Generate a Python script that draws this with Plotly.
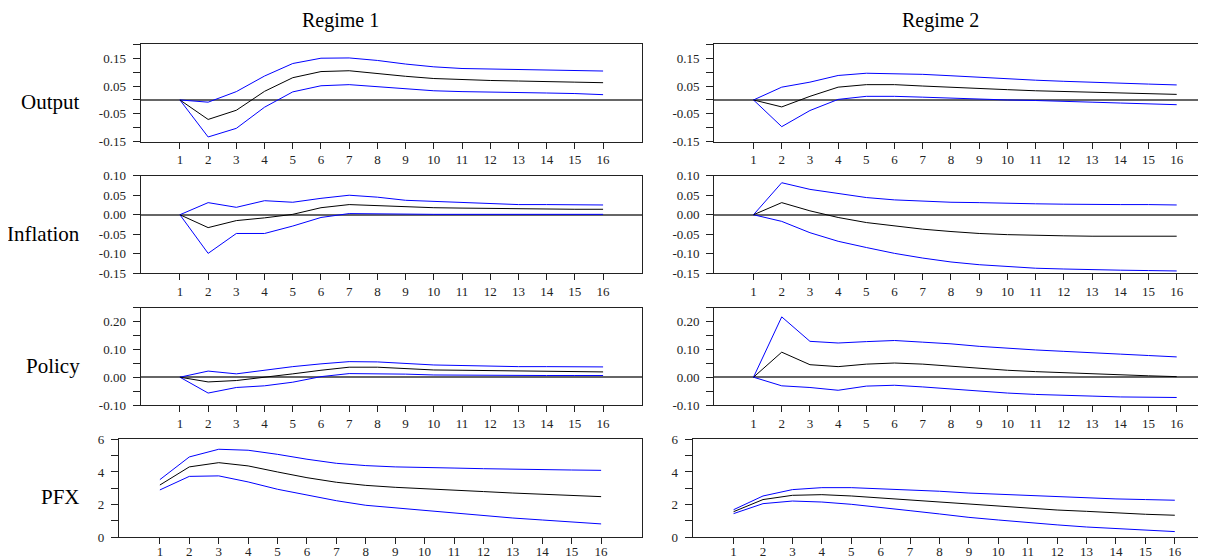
import plotly.graph_objects as go

W, H = 1206, 557
OFF = 8  # page body margin of the html page
horizon = list(range(1, 17))
titles = ["Regime 1", "Regime 2"]
row_names = ["Output", "Inflation", "Policy", "PFX"]

# Output
out_r1_mid = [0, -0.070, -0.037, 0.031, 0.080, 0.102, 0.105, 0.094, 0.085, 0.077, 0.073, 0.070, 0.068, 0.067, 0.064, 0.062]
out_r1_up = [0, -0.008, 0.030, 0.086, 0.131, 0.150, 0.151, 0.142, 0.129, 0.119, 0.113, 0.111, 0.110, 0.107, 0.106, 0.104]
out_r1_lo = [0, -0.133, -0.102, -0.026, 0.029, 0.051, 0.055, 0.048, 0.039, 0.033, 0.030, 0.029, 0.027, 0.025, 0.023, 0.019]
out_r2_mid = [0, -0.025, 0.013, 0.046, 0.055, 0.055, 0.050, 0.045, 0.040, 0.037, 0.033, 0.030, 0.027, 0.025, 0.023, 0.020]
out_r2_up = [0, 0.046, 0.064, 0.088, 0.096, 0.095, 0.092, 0.087, 0.081, 0.076, 0.071, 0.067, 0.063, 0.060, 0.057, 0.054]
out_r2_lo = [0, -0.096, -0.038, 0.002, 0.013, 0.013, 0.010, 0.006, 0.002, 0.000, -0.002, -0.006, -0.008, -0.011, -0.013, -0.017]

# Inflation
inf_r1_mid = [0, -0.033, -0.015, -0.008, 0.001, 0.018, 0.026, 0.023, 0.020, 0.018, 0.017, 0.016, 0.015, 0.014, 0.014, 0.014]
inf_r1_up = [0, 0.031, 0.019, 0.036, 0.032, 0.042, 0.050, 0.045, 0.037, 0.034, 0.031, 0.029, 0.026, 0.026, 0.026, 0.025]
inf_r1_lo = [0, -0.099, -0.048, -0.048, -0.029, -0.007, 0.003, 0.002, 0.001, 0.001, 0.001, 0.001, 0.001, 0.001, 0.001, 0.001]
inf_r2_mid = [0, 0.031, 0.010, -0.007, -0.020, -0.029, -0.037, -0.043, -0.048, -0.051, -0.053, -0.054, -0.055, -0.055, -0.055, -0.055]
inf_r2_up = [0, 0.082, 0.065, 0.055, 0.044, 0.038, 0.035, 0.032, 0.031, 0.029, 0.028, 0.027, 0.026, 0.026, 0.026, 0.025]
inf_r2_lo = [0, -0.017, -0.046, -0.068, -0.084, -0.099, -0.111, -0.121, -0.128, -0.133, -0.137, -0.139, -0.141, -0.142, -0.143, -0.144]

# Policy
pol_r1_mid = [0, -0.017, -0.012, -0.001, 0.012, 0.025, 0.036, 0.036, 0.030, 0.026, 0.025, 0.024, 0.023, 0.022, 0.020, 0.019]
pol_r1_up = [0, 0.022, 0.012, 0.025, 0.038, 0.048, 0.056, 0.055, 0.049, 0.044, 0.042, 0.039, 0.038, 0.038, 0.037, 0.037]
pol_r1_lo = [0, -0.057, -0.037, -0.031, -0.018, 0.002, 0.013, 0.013, 0.011, 0.008, 0.007, 0.007, 0.006, 0.006, 0.006, 0.006]
pol_r2_mid = [0, 0.090, 0.045, 0.038, 0.047, 0.051, 0.047, 0.039, 0.032, 0.025, 0.020, 0.016, 0.011, 0.007, 0.005, 0.002]
pol_r2_up = [0, 0.217, 0.129, 0.123, 0.128, 0.132, 0.126, 0.120, 0.111, 0.104, 0.098, 0.093, 0.087, 0.083, 0.078, 0.073]
pol_r2_lo = [0, -0.031, -0.037, -0.047, -0.032, -0.029, -0.035, -0.043, -0.050, -0.057, -0.062, -0.066, -0.068, -0.071, -0.072, -0.073]

# PFX
pfx_r1_mid = [3.20, 4.31, 4.57, 4.37, 4.00, 3.65, 3.37, 3.18, 3.06, 2.96, 2.88, 2.80, 2.71, 2.63, 2.55, 2.49]
pfx_r1_up = [3.53, 4.92, 5.39, 5.33, 5.08, 4.78, 4.53, 4.39, 4.31, 4.29, 4.24, 4.20, 4.16, 4.14, 4.12, 4.10]
pfx_r1_lo = [2.90, 3.73, 3.76, 3.39, 2.94, 2.57, 2.24, 1.96, 1.80, 1.63, 1.47, 1.33, 1.18, 1.06, 0.94, 0.82]
pfx_r2_mid = [1.57, 2.31, 2.57, 2.61, 2.53, 2.41, 2.27, 2.14, 2.02, 1.90, 1.78, 1.67, 1.59, 1.49, 1.41, 1.35]
pfx_r2_up = [1.69, 2.53, 2.92, 3.04, 3.04, 2.98, 2.90, 2.82, 2.71, 2.63, 2.55, 2.47, 2.41, 2.35, 2.31, 2.27]
pfx_r2_lo = [1.45, 2.06, 2.22, 2.16, 2.02, 1.84, 1.63, 1.43, 1.22, 1.06, 0.90, 0.76, 0.63, 0.53, 0.43, 0.35]

panels = [
    [(out_r1_lo, out_r1_mid, out_r1_up), (out_r2_lo, out_r2_mid, out_r2_up)],
    [(inf_r1_lo, inf_r1_mid, inf_r1_up), (inf_r2_lo, inf_r2_mid, inf_r2_up)],
    [(pol_r1_lo, pol_r1_mid, pol_r1_up), (pol_r2_lo, pol_r2_mid, pol_r2_up)],
    [(pfx_r1_lo, pfx_r1_mid, pfx_r1_up), (pfx_r2_lo, pfx_r2_mid, pfx_r2_up)],
]

# y-axis specs: range, tick values, tick labels
y_specs = [
    ([-0.15, 0.20], [-0.15, -0.10, -0.05, 0.0, 0.05, 0.10, 0.15, 0.20],
     ["-0.15", "", "-0.05", "", "0.05", "", "0.15", ""]),
    ([-0.15, 0.10], [-0.15, -0.10, -0.05, 0.0, 0.05, 0.10],
     ["-0.15", "-0.10", "-0.05", "0.00", "0.05", "0.10"]),
    ([-0.10, 0.25], [-0.10, -0.05, 0.0, 0.05, 0.10, 0.15, 0.20, 0.25],
     ["-0.10", "", "0.00", "", "0.10", "", "0.20", ""]),
    ([0, 6], [0, 1, 2, 3, 4, 5, 6], ["0", "", "2", "", "4", "", "6"]),
]

# pixel geometry (page pixels)
row_px = [(44.3, 141.7), (175.7, 273.3), (307.7, 405.0), (439.3, 537.3)]
col_px = [
    [(140.7, 642.3), (714.3, 1215.9)],
    [(140.7, 642.3), (714.3, 1215.9)],
    [(140.7, 642.3), (714.3, 1215.9)],
    [(119.0, 642.0), (692.7, 1215.7)],
]
XR = [-0.39, 17.39]

font_family = "Liberation Serif"
axis_col = "#222222"
TICK_SIZE = 13

fig = go.Figure()
layout = dict(
    width=W, height=H, margin=dict(l=0, r=0, t=0, b=0, autoexpand=False),
    paper_bgcolor="white", plot_bgcolor="white", showlegend=False,
    font=dict(family=font_family, size=TICK_SIZE, color="#222222"),
)
annotations = []
k = 0
for r in range(4):
    for c in range(2):
        k += 1
        xa = "x" if k == 1 else f"x{k}"
        ya = "y" if k == 1 else f"y{k}"
        lo, mid, up = panels[r][c]
        for series, col in ((up, "#0000FF"), (lo, "#0000FF"), (mid, "#000000")):
            fig.add_trace(go.Scatter(x=horizon, y=series, mode="lines",
                                     line=dict(color=col, width=1),
                                     xaxis=xa, yaxis=ya, hoverinfo="skip"))
        x0, x1 = col_px[r][c]
        y0, y1 = row_px[r]
        x0f, x1f, y0f, y1f = x0 - OFF, x1 - OFF, y0 - OFF, y1 - OFF
        vis_right = W - OFF  # page right edge in figure pixels
        clipped = x1f > vis_right
        if clipped:
            xr = [XR[0], XR[0] + (XR[1] - XR[0]) * (vis_right - x0f) / (x1f - x0f)]
            d1 = vis_right / W
        else:
            xr = XR
            d1 = x1f / W
        yr, tv, tt = y_specs[r]
        layout["xaxis" if k == 1 else f"xaxis{k}"] = dict(
            domain=[x0f / W, d1], range=xr, anchor=ya, automargin=False,
            tickmode="array", tickvals=horizon, ticktext=[str(h) for h in horizon],
            ticks="outside", ticklen=6, tickcolor=axis_col, tickwidth=1,
            showline=True, linecolor=axis_col, linewidth=1.3, mirror=True,
            showgrid=False, zeroline=False,
            ticklabelstandoff=(-4 if r == 3 else 0),
            tickfont=dict(family=font_family, size=TICK_SIZE, color="#222222"),
        )
        layout["yaxis" if k == 1 else f"yaxis{k}"] = dict(
            domain=[1 - y1f / H, 1 - y0f / H], range=yr, anchor=xa, automargin=False,
            tickmode="array", tickvals=tv, ticktext=tt,
            ticks="outside", ticklen=7, tickcolor=axis_col, tickwidth=1,
            showline=True, linecolor=axis_col, linewidth=1.3,
            mirror=(not clipped),
            showgrid=False,
            zeroline=(r < 3), zerolinecolor="#666666", zerolinewidth=1.5,
            ticklabelstandoff=4,
            tickfont=dict(family=font_family, size=TICK_SIZE, color="#222222"),
        )

for name, yc in zip(row_names, [102, 234, 366, 497]):
    annotations.append(dict(text=name, x=(82 - OFF) / W, y=1 - (yc - OFF) / H,
                            xref="paper", yref="paper",
                            xanchor="right", yanchor="middle", showarrow=False,
                            font=dict(family=font_family, size=21, color="#000000")))
for t, xc in zip(titles, [340, 940]):
    annotations.append(dict(text=t, x=(xc - OFF) / W, y=1 - (20 - OFF) / H,
                            xref="paper", yref="paper",
                            xanchor="center", yanchor="middle", showarrow=False,
                            font=dict(family=font_family, size=20, color="#000000")))
layout["annotations"] = annotations
fig.update_layout(**layout)
fig.write_html("out.html")
